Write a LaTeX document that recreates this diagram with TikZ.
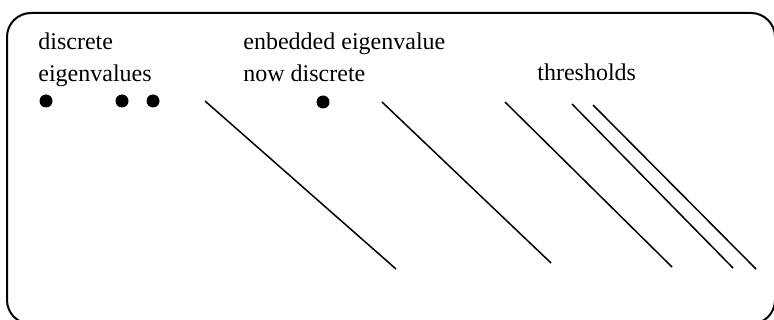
\documentclass[tikz,border=0pt]{standalone}
\usepackage{fontspec}
\setmainfont{Liberation Serif}
\usetikzlibrary{positioning}

\begin{document}
\begin{tikzpicture}[x=0.5pt, y=-0.5pt, txt/.style={anchor=base west, inner sep=0pt, font=\fontsize{12}{15}\selectfont}, dot/.style={circle, fill, inner sep=0pt, minimum size=6.5pt}, branch/.style={line width=0.75pt}]

	\useasboundingbox (0,0) rectangle (774,320);
	\draw[line width=1pt, rounded corners=12pt] (7,13) rectangle (775,324);

	\node[txt] (discrete) at (38,50) {discrete};
	\node[txt] (eigen) at (38,82) {eigenvalues};
	\node[txt] (embedded) at (243,50) {enbedded eigenvalue};
	\node[txt] (now) at (243,82) {now discrete};
	\node[txt] (thresholds) at (537,81) {thresholds};

	\foreach \position [count=\count] in {(46,101), (122,101), (153,101), (323,102)}
	{
		\node[dot] (ev\count) at \position {};
	}

	\foreach \xa/\ya/\xb/\yb in {205/101/396/269, 382/102/551/263, 505/102/672/267, 572/104/733/268, 593/105/756/269} {
		\draw[branch] (\xa,\ya) -- (\xb,\yb);
	}

\end{tikzpicture}
\end{document}
